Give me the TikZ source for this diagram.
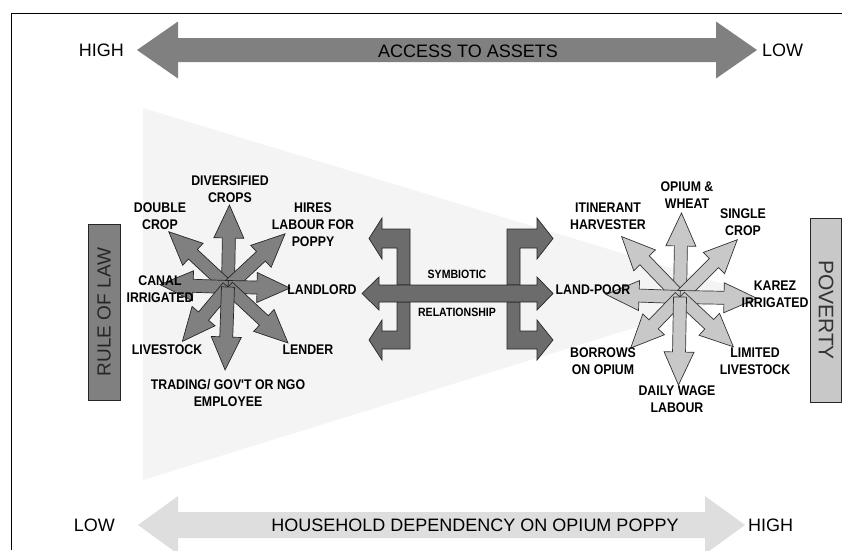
\documentclass[tikz,border=0pt]{standalone}
\usepackage{fontspec}
\setmainfont{Liberation Sans}
\newfontfamily\lblfont{Liberation Sans}[FakeStretch=0.88]
\usetikzlibrary{positioning}

\begin{document}
\begin{tikzpicture}[x=1pt,y=-1pt,
	lbl/.style={font=\lblfont\bfseries\fontsize{14}{17}\selectfont,align=center,inner sep=0pt},
	axislbl/.style={font=\fontsize{18}{20}\selectfont,inner sep=0pt},
	midlbl/.style={font=\lblfont\bfseries\fontsize{12}{13}\selectfont,inner sep=0pt},
	leftarr/.style={draw=black!85,fill=fillmid,line width=0.7pt},
	rightarr/.style={draw=black!80,fill=filllight,line width=0.7pt},
	bentarr/.style={draw=black!85,fill=filldark,line width=0.7pt},
	sidebox/.style={draw=black!85,line width=0.7pt,inner sep=0pt,font=\fontsize{19}{21}\selectfont}]

	\definecolor{fillmid}{RGB}{128,128,128}
	\definecolor{filldark}{RGB}{108,108,108}
	\definecolor{filllight}{RGB}{200,200,200}
	\definecolor{fillpale}{RGB}{222,222,222}
	\definecolor{fillwedge}{RGB}{244,244,244}

	\clip (0,0) rectangle (842,550);

	% background wedge and frame
	\fill[fillwedge] (143,108) -- (750,292) -- (143,480) -- cycle;
	\draw[line width=0.8pt] (11,550) -- (11,13) -- (842,13);

	% access to assets
	\coordinate (aL) at (137,50);
	\coordinate (aR) at (757,50);
	\fill[fillmid] (aL) -- (178,21.5) -- (178,38) -- (716,38) -- (716,21.5) -- (aR)
		-- (716,78.5) -- (716,62) -- (178,62) -- (178,78.5) -- cycle;
	\node[axislbl] (assets) at (468,51) {ACCESS TO ASSETS};
	\node[axislbl] (highA) [left=13pt of aL] {HIGH};
	\node[axislbl] (lowA) [right=5pt of aR] {LOW};

	% household dependency
	\coordinate (dL) at (138,525);
	\coordinate (dR) at (745,525);
	\fill[fillpale] (dL) -- (178,496) -- (178,512) -- (705,512) -- (705,496) -- (dR)
		-- (705,554) -- (705,538) -- (178,538) -- (178,554) -- cycle;
	\node[axislbl] (depend) at (475,525) {HOUSEHOLD DEPENDENCY ON OPIUM POPPY};
	\node[axislbl] (lowD) [left=23pt of dL] {LOW};
	\node[axislbl] (highD) [right=3pt of dR] {HIGH};

	% side boxes
	\node[sidebox,fill=fillmid,text=black!85,rotate=90,minimum width=176pt,minimum height=32pt]
		(law) at (104,312) {RULE OF LAW};
	\node[sidebox,fill=filllight,text=black!80,rotate=-90,minimum width=184pt,minimum height=31pt,
		font=\fontsize{21}{23}\selectfont] (poverty) at (826,310) {POVERTY};

	% left star
	\coordinate (lc) at (228,287);
	\foreach \ang/\len in {89/82, 137/81, 43/78, -1/62, 178/68, -130/71, -43/82, -92/83}
		\draw[leftarr, shift={(lc)}, rotate=\ang] (0,-6.5) -- (\len-33,-6.5) -- (\len-33,-15)
			-- (\len,0) -- (\len-33,15) -- (\len-33,6.5) -- (0,6.5) -- cycle;

	% right star
	\coordinate (rc) at (680,297);
	\foreach \ang/\len in {89/84, 134/84, 45/81, -1/77, 178/74, -134/71, -43/73, -91/88}
		\draw[rightarr, shift={(rc)}, rotate=\ang] (0,-6.5) -- (\len-33,-6.5) -- (\len-33,-15)
			-- (\len,0) -- (\len-33,15) -- (\len-33,6.5) -- (0,6.5) -- cycle;

	% symbiotic relationship
	\draw[bentarr] (410,285) -- (410,229) -- (382,229) -- (382,218) -- (369,238.5) -- (382,259)
		-- (382,248) -- (397,248) -- (397,285) -- cycle;
	\draw[bentarr] (410,302) -- (410,349) -- (382,349) -- (382,360) -- (369,340) -- (382,320)
		-- (382,331) -- (397,331) -- (397,302) -- cycle;
	\draw[bentarr] (507,285) -- (507,229) -- (537,229) -- (537,218) -- (553,238.5) -- (537,259)
		-- (537,248) -- (520,248) -- (520,285) -- cycle;
	\draw[bentarr] (507,302) -- (507,349) -- (537,349) -- (537,360) -- (553,340) -- (537,320)
		-- (537,331) -- (520,331) -- (520,302) -- cycle;
	\draw[bentarr] (362,293.5) -- (379,277) -- (379,285) -- (537,285) -- (537,277) -- (553,293.5)
		-- (537,310) -- (537,302) -- (379,302) -- (379,310) -- cycle;
	\node[midlbl] (sym) at (457,274) {SYMBIOTIC};
	\node[midlbl] (rel) at (457,312) {RELATIONSHIP};

	% left labels
	\node[lbl] (divers) at (230,189) {DIVERSIFIED\\CROPS};
	\node[lbl] (double) at (160,216) {DOUBLE\\CROP};
	\node[lbl] (hires) at (313,225) {HIRES\\LABOUR FOR\\POPPY};
	\node[lbl] (canal) at (160,289) {CANAL\\IRRIGATED};
	\node[lbl] (landlord) at (322,290) {LANDLORD};
	\node[lbl] (livestock) at (167,350) {LIVESTOCK};
	\node[lbl] (lender) at (308,350) {LENDER};
	\node[lbl] (trading) at (228,393) {TRADING/ GOV'T OR NGO\\EMPLOYEE};

	% right labels
	\node[lbl] (itinerant) at (608,216) {ITINERANT\\HARVESTER};
	\node[lbl] (opium) at (687,195) {OPIUM \&\\WHEAT};
	\node[lbl] (single) at (743,222) {SINGLE\\CROP};
	\node[lbl] (karez) at (775,294) {KAREZ\\IRRIGATED};
	\node[lbl] (landpoor) at (593,290) {LAND-POOR};
	\node[lbl] (borrows) at (603,361) {BORROWS\\ON OPIUM};
	\node[lbl] (limited) at (755,361) {LIMITED\\LIVESTOCK};
	\node[lbl] (daily) at (677,399) {DAILY WAGE\\LABOUR};
\end{tikzpicture}
\end{document}
